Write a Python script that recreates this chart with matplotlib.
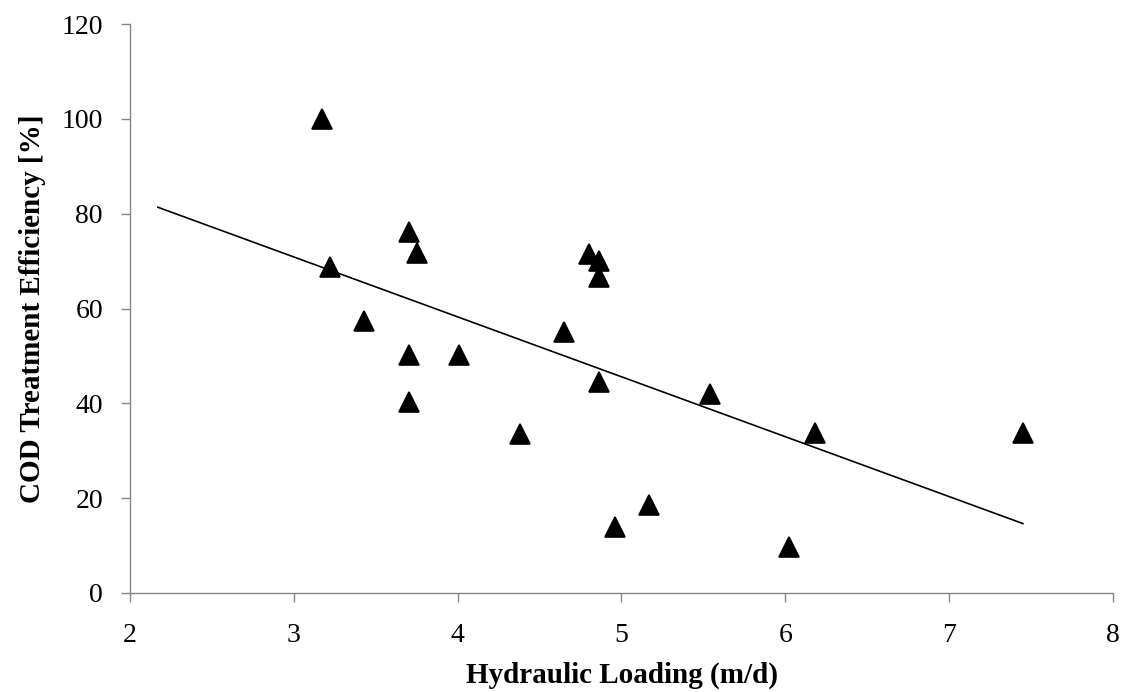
import numpy as np
import matplotlib
matplotlib.use("Agg")
import matplotlib.pyplot as plt

# Data
hydraulic_loading = [3.17, 3.70, 3.75, 3.22, 3.43, 3.70, 4.01, 3.70,
                     4.80, 4.86, 4.86, 4.65, 4.86, 5.54, 4.38, 5.17,
                     4.96, 6.18, 7.45, 6.02]
cod_efficiency = [100.0, 76.2, 71.8, 68.8, 57.4, 50.2, 50.2, 40.3,
                  71.5, 70.1, 66.7, 55.1, 44.6, 42.0, 33.5, 18.6,
                  13.9, 33.7, 33.7, 9.6]
x_ticks = [2, 3, 4, 5, 6, 7, 8]
y_ticks = [0, 20, 40, 60, 80, 100, 120]
trend_backward = 1.0

plt.rcParams['font.family'] = ['Liberation Serif', 'DejaVu Serif']

fig = plt.figure(figsize=(11.24, 6.92), dpi=100)
ax = fig.add_axes([130/1124, 1-593/692, (1113-130)/1124, (593-24)/692])

x = np.array(hydraulic_loading)
y = np.array(cod_efficiency)
slope, intercept = np.polyfit(x, y, 1)
xt = np.array([x.min() - trend_backward, x.max()])
ax.plot(xt, slope*xt + intercept, color='black', lw=1.2, zorder=2)

ax.plot(x, y, linestyle='none', marker='^', ms=14, color='black',
        mec='black', mew=1.2, zorder=3)

ax.set_xlim(2, 8)
ax.set_ylim(0, 120)
ax.set_xticks(x_ticks)
ax.set_yticks(y_ticks)
ax.tick_params(axis='both', direction='out', length=6.5, width=1, color='#868686',
               labelsize=20, pad=13)
ax.tick_params(axis='x', pad=15)
for s in ['top', 'right']:
    ax.spines[s].set_visible(False)
for s in ['left', 'bottom']:
    ax.spines[s].set_color('#868686')
    ax.spines[s].set_linewidth(1)

ax.set_xlabel('Hydraulic Loading (m/d)', fontsize=21, fontweight='bold', labelpad=10)
ax.set_ylabel('COD Treatment Efficiency [%]', fontsize=21, fontweight='bold', labelpad=11)

fig.savefig('out.png', dpi=100)
